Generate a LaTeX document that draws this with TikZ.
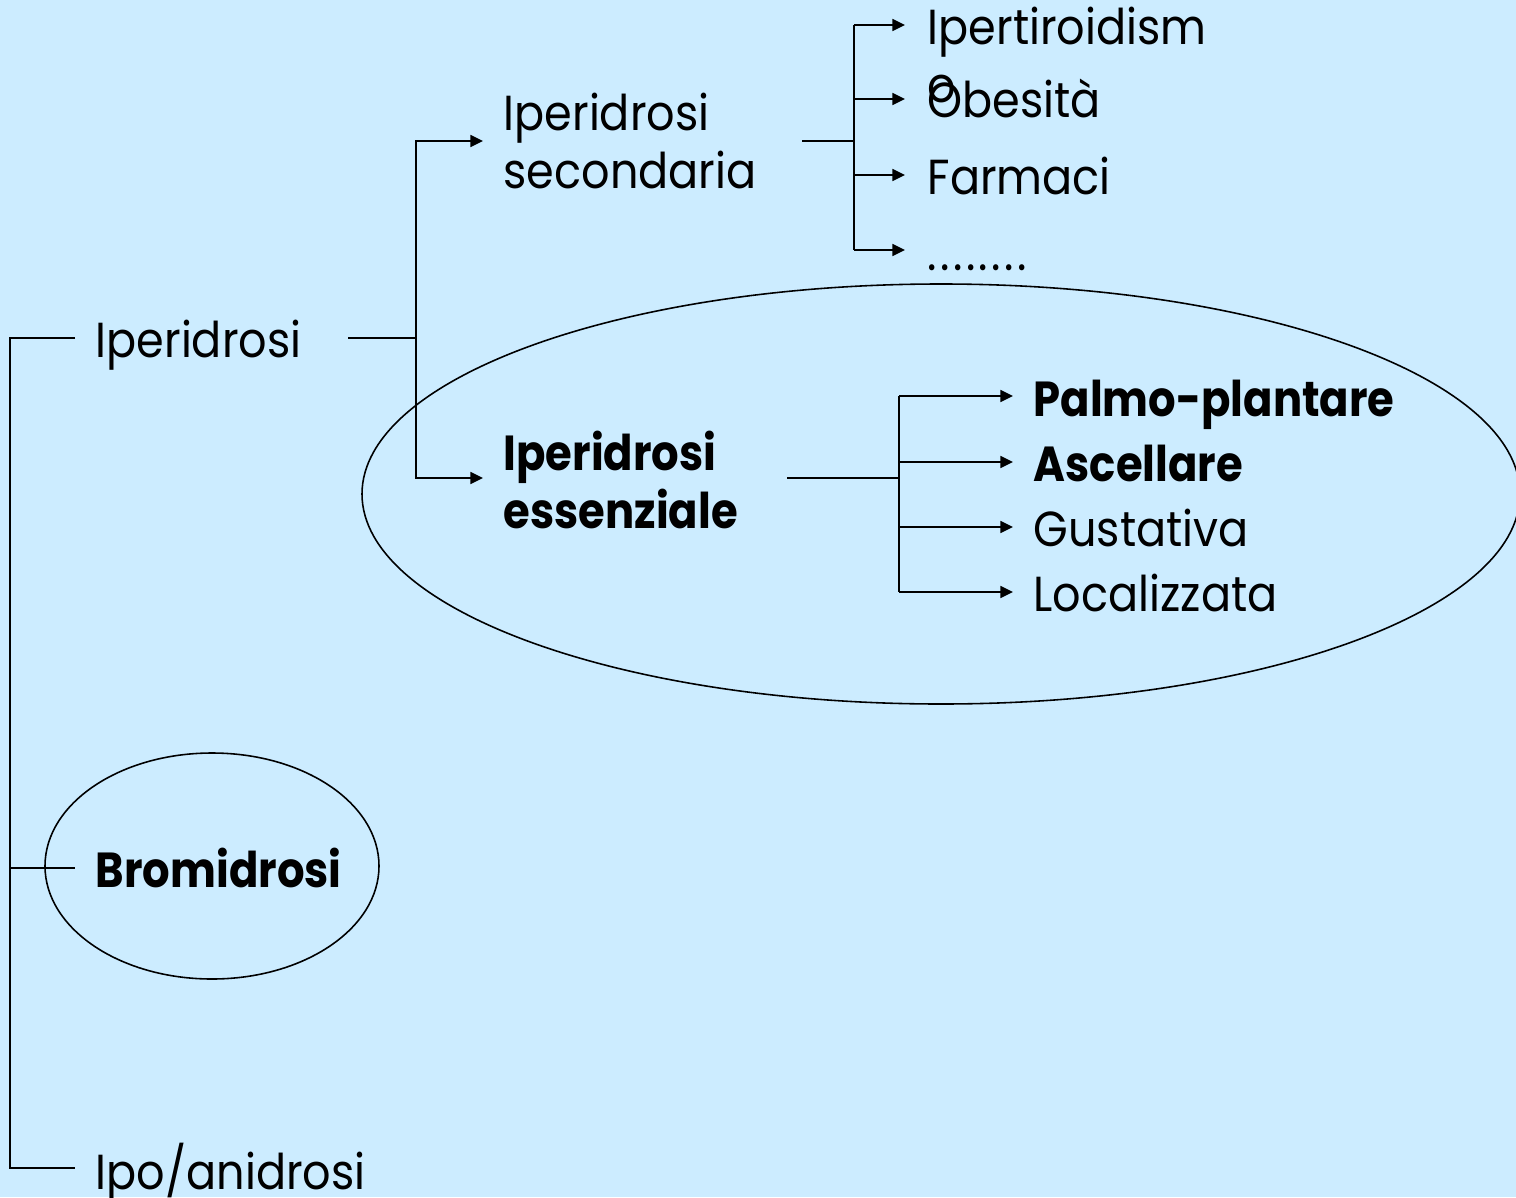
\documentclass[tikz,border=0pt]{standalone}
\usepackage{fontspec}
\setmainfont{Poppins}[FakeStretch=0.905,BoldFeatures={FakeStretch=0.88}]
\usetikzlibrary{arrows.meta}
\definecolor{bg}{RGB}{204,236,255}
\begin{document}
\begin{tikzpicture}[x=0.01cm,y=-0.01cm,
  lbl/.style={anchor=base west,inner sep=0pt,font=\fontsize{14}{16.5}\selectfont,align=left},
  blbl/.style={lbl,font=\fontsize{14}{16.5}\selectfont\bfseries},
  thinline/.style={line width=0.45pt},
  thkline/.style={line width=0.8pt},
  arr/.style={thkline,-{Triangle[length=3.6pt,width=3.3pt]}},
  ring/.style={draw,line width=0.45pt}]
\fill[bg] (0,0) rectangle (1516,1197);
\useasboundingbox (0,0) rectangle (1516,1197);
% ellipses
\draw[ring] (941,494) ellipse [x radius=579, y radius=210];
\draw[ring] (212,866) ellipse [x radius=167, y radius=113];
% texts
\node[lbl] (iper) at (95,357) {Iperidrosi};
\node[blbl] (brom) at (95,887) {Bromidrosi};
\node[lbl] (ipo) at (95,1189) {Ipo/anidrosi};
\node[lbl,anchor=north west] (sec) at (503,92) {Iperidrosi\\secondaria};
\node[blbl,anchor=north west] (ess) at (503,430) {Iperidrosi\\essenziale};
\node[lbl,anchor=north west] (tir) at (927,6) {Ipertiroidism\\o};
\node[lbl] (obe) at (927,118) {Obesità};
\node[lbl] (far) at (927,195) {Farmaci};
\node[lbl] (dots) at (927,270) {\addfontfeature{LetterSpace=7}........};
\node[blbl] (palmo) at (1033,416) {Palmo-plantare};
\node[blbl] (asc) at (1033,481) {Ascellare};
\node[lbl] (gus) at (1033,546) {Gustativa};
\node[lbl] (loc) at (1033,611) {Localizzata};
% left bracket
\coordinate (lt) at (10,338);
\coordinate (lm) at (10,868);
\coordinate (lb) at (10,1168);
\draw[thinline] (iper.west |- lt) ++(-20,0) -- (lt) -- (lb) -- ++(65,0);
\draw[thinline] (lm) -- ++(65,0);
% first split
\coordinate (j1) at (416,338);
\draw[thkline] (348,338) -- (j1);
\draw[arr] (j1) |- (483,141);
\draw[arr] (j1) |- (483,478);
% secondaria split
\coordinate (j2) at (854,141);
\draw[thkline] (802,141) -- (j2);
\draw[thkline] (854,25) -- (854,250);
\draw[arr] (854,25) -- (905,25);
\draw[arr] (854,99) -- (905,99);
\draw[arr] (854,175) -- (905,175);
\draw[arr] (854,250) -- (905,250);
% essenziale split
\coordinate (j3) at (899,478);
\draw[thkline] (787,478) -- (j3);
\draw[thkline] (899,396) -- (899,592);
\draw[arr] (899,396) -- (1013,396);
\draw[arr] (899,462) -- (1013,462);
\draw[arr] (899,527) -- (1013,527);
\draw[arr] (899,592) -- (1013,592);
\end{tikzpicture}
\end{document}
